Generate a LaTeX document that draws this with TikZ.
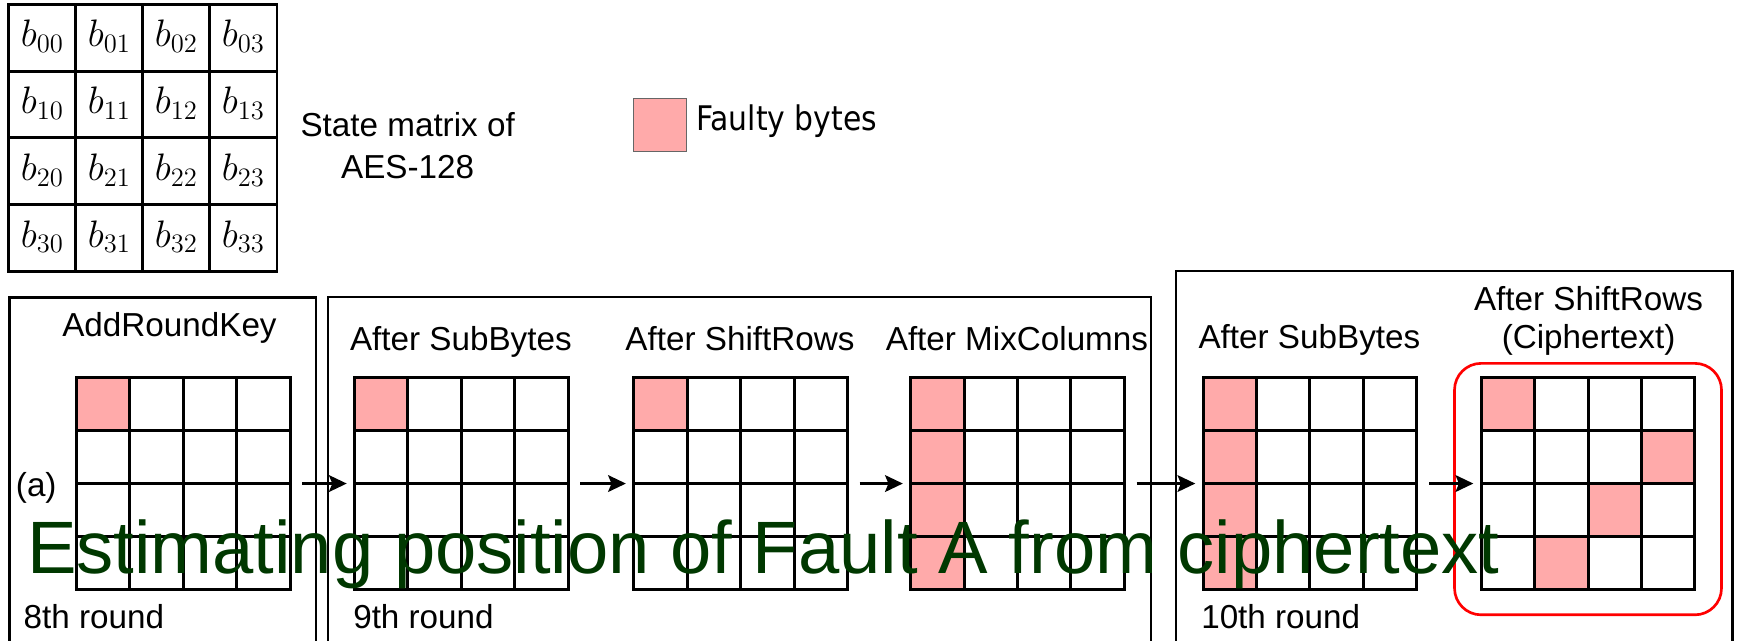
\documentclass[tikz,border=0pt]{standalone}
\usepackage[no-math]{fontspec}
\newfontfamily\arialfont{Liberation Sans}
\newfontfamily\legendfont[FakeStretch=0.88]{DejaVu Sans}
\usetikzlibrary{arrows.meta}
\definecolor{faulty}{RGB}{255,170,170}
\definecolor{marktext}{RGB}{0,56,0}

% 4x4 state grid: name, left x, list of faulty cells as col/row
\newcommand\faultgrid[3]{%
  \node[gridnode, anchor=north west] (#1) at (#2,340.5) {};
  \foreach \c/\r in {#3} \fill[faulty] ({#2+48.25*\c},{340.5+48*\r}) rectangle ++(48.25,48);
  \draw[gridline] (#2,340.5) rectangle ++(193,192);
  \foreach \k in {1,2,3} {
    \draw[gridline] ({#2+48.25*\k},340.5) -- ++(0,192);
    \draw[gridline] (#2,{340.5+48*\k}) -- ++(193,0);
  }%
}

\begin{document}
\begin{tikzpicture}[x=0.5pt,y=-0.5pt,
  txt/.style={font=\arialfont\fontsize{15}{18}\selectfont, inner sep=0pt},
  gridline/.style={line width=1.35pt},
  frame/.style={line width=1.1pt},
  flow/.style={line width=1.35pt, -{Stealth[length=8pt,width=7.5pt,inset=1.5pt]}},
  gridnode/.style={minimum width=96.5pt, minimum height=96pt, inner sep=0pt, outer sep=0pt},
]
\useasboundingbox (0,0) rectangle (1568,578);
\clip (0,0) rectangle (1568,578);

% state matrix with byte labels
\draw[line width=1.3pt] (8,4) rectangle (250,245);
\foreach \k in {1,2,3} {
  \draw[line width=1.3pt] ({8+60.5*\k},4) -- ({8+60.5*\k},245);
  \draw[line width=1.3pt] (8,{4+60.25*\k}) -- (250,{4+60.25*\k});
}
\foreach \r in {0,...,3} \foreach \c in {0,...,3}
  \node[inner sep=0pt, font=\fontsize{16.5}{19}\selectfont] (b\r\c) at ({8+60.5*\c+30.25},{4+60.25*\r+29}) {$b_{\r\c}$};

\node[txt, anchor=base] (sm1) at (368,123.5) {State matrix of};
\node[txt, anchor=base] (sm2) at (368,161) {AES-128};

% legend
\node[draw={black!60}, line width=0.5pt, fill=faulty, minimum size=24pt, inner sep=0pt, anchor=north west] (key) at (571,88.5) {};
\node[font=\legendfont\fontsize{15.3}{18}\selectfont, inner sep=0pt, anchor=base west] (keytext) at (628,118) {Faulty bytes};

% round frames
\draw[frame] (8.6,268.4) rectangle (285,620);
\draw[frame] (296,268) rectangle (1039,620);
\draw[frame] (1061.7,244.6) rectangle (1564,620);

% ciphertext highlight
\draw[red, line width=1.2pt, rounded corners=12pt] (1313,328) rectangle (1554,555);

% state grids
\faultgrid{g1}{69}{0/0}
\faultgrid{g2}{320}{0/0}
\faultgrid{g3}{572}{0/0}
\faultgrid{g4}{822}{0/0,0/1,0/2,0/3}
\faultgrid{g5}{1086}{0/0,0/1,0/2,0/3}
\faultgrid{g6}{1337}{0/0,3/1,2/2,1/3}

% transitions
\draw[flow] ([xshift=5.5pt]g1.east) -- ([xshift=-3.5pt]g2.west);
\draw[flow] ([xshift=5.5pt]g2.east) -- ([xshift=-3.5pt]g3.west);
\draw[flow] ([xshift=5.5pt]g3.east) -- ([xshift=-3.5pt]g4.west);
\draw[flow] ([xshift=5.5pt]g4.east) -- ([xshift=-3.5pt]g5.west);
\draw[flow] ([xshift=5.5pt]g5.east) -- ([xshift=-3.5pt]g6.west);

% step titles
\node[txt, anchor=base] (t1) at (153,304) {AddRoundKey};
\node[txt, anchor=base] (t2) at (416,316) {After SubBytes};
\node[txt, anchor=base] (t3) at (668,316) {After ShiftRows};
\node[txt, anchor=base] (t4) at (918,316) {After MixColumns};
\node[txt, anchor=base] (t5) at (1182,315) {After SubBytes};
\node[txt, anchor=base] (t6a) at (1434,280) {After ShiftRows};
\node[txt, anchor=base] (t6b) at (1434,315) {(Ciphertext)};

% round labels
\node[txt, anchor=base west] (r8) at (21,567) {8th round};
\node[txt, anchor=base west] (r9) at (318.5,567) {9th round};
\node[txt, anchor=base west] (r10) at (1084,567) {10th round};
\node[txt, anchor=base west] (lab) at (14,448) {(a)};

% caption overlay
\node[font=\arialfont\fontsize{33.5}{40}\selectfont, text=marktext, inner sep=0pt, anchor=base west] (caption) at (24,518) {Estimating position of Fault A from ciphertext};
\end{tikzpicture}
\end{document}
